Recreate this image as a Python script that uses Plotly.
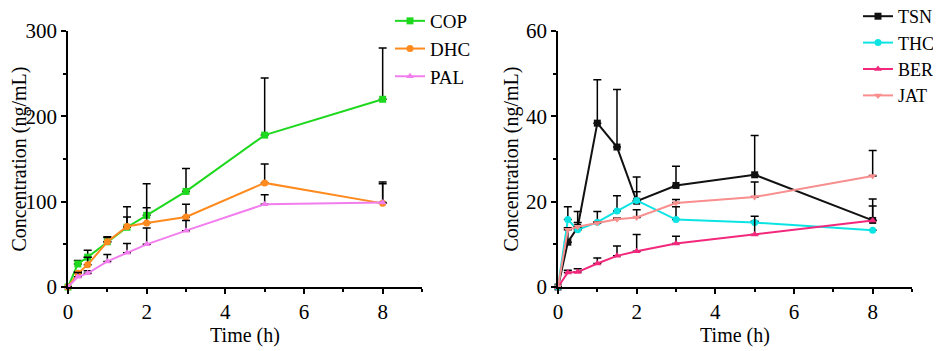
import plotly.graph_objects as go

# ---- data ----
time_h = [0, 0.25, 0.5, 1, 1.5, 2, 3, 5, 8]

cop = [0, 27, 35, 53, 70, 84, 112, 178, 220]
cop_err = [0, 4, 8, 6, 24, 37, 27, 67, 60]
dhc = [0, 16, 26, 53, 71, 75, 82, 122, 98]
dhc_err = [0, 2, 9, 5, 11, 18, 15, 22, 25]
pal = [0, 12, 16, 30, 40, 50, 66, 97, 99]
pal_err = [0, 5, 3, 8, 11, 19, 12, 11, 22]

tsn = [0, 10.5, 14.0, 38.4, 32.8, 20.1, 23.8, 26.3, 15.6]
tsn_err = [0, 3.3, 3.7, 10.2, 13.5, 5.7, 4.5, 9.2, 5.0]
thc = [0, 15.8, 13.4, 15.2, 17.8, 20.3, 15.8, 15.1, 13.3]
thc_err = [0, 3.0, 0.5, 2.5, 3.6, 2.0, 3.0, 0.3, 0]
ber = [0, 3.4, 3.5, 5.5, 7.3, 8.4, 10.2, 12.3, 15.6]
ber_err = [0, 0.5, 0.8, 1.3, 2.3, 3.9, 1.7, 4.3, 3.4]
jat = [0, 13.4, 14.1, 15.0, 15.9, 16.3, 19.7, 21.1, 26.0]
jat_err = [0, 0.5, 1.0, 0.3, 0.3, 1.8, 0.8, 3.5, 6.0]

FONT = "Liberation Serif"

left_series = [
    ("COP", cop, cop_err, "#1ED81E", "square"),
    ("DHC", dhc, dhc_err, "#FF8A1E", "circle"),
    ("PAL", pal, pal_err, "#F27EEE", "triangle-up"),
]
right_series = [
    ("TSN", tsn, tsn_err, "#111111", "square"),
    ("THC", thc, thc_err, "#0CE4E4", "circle"),
    ("BER", ber, ber_err, "#F2287C", "triangle-up"),
    ("JAT", jat, jat_err, "#F88E8E", "triangle-down"),
]

fig = go.Figure()


def add(series, xa, ya, leg):
    for name, y, err, col, sym in series:
        fig.add_trace(go.Scatter(
            x=time_h, y=y, name=name, mode="lines+markers",
            xaxis=xa, yaxis=ya, legend=leg,
            line=dict(color=col, width=2),
            marker=dict(color=col, symbol=sym, size=7),
            error_y=dict(type="data", symmetric=False, array=err,
                         arrayminus=[0] * len(err), color="black",
                         thickness=1.5, width=4),
            cliponaxis=False,
        ))


add(left_series, "x", "y", "legend")
add(right_series, "x2", "y2", "legend2")

# the page body has an 8px margin, so lay out in a 933x343 box
W, H = 933, 343
y0 = (H - 279) / H
y1 = (H - 23) / H

axis_common = dict(
    showline=True, linecolor="black", linewidth=1.5, ticks="outside",
    ticklen=5, tickwidth=1.5, tickcolor="black", showgrid=False,
    zeroline=False, tickfont=dict(family=FONT, size=21, color="black"),
    mirror=False, automargin=False,
)
minor_x = dict(ticks="outside", ticklen=3, dtick=1, tickcolor="black", tickwidth=1.5)
title_font = dict(family=FONT, size=20, color="black")

fig.update_layout(
    width=W, height=H,
    margin=dict(l=0, r=0, t=0, b=0, autoexpand=False),
    paper_bgcolor="white", plot_bgcolor="white",
    font=dict(family=FONT, size=20, color="black"),
    xaxis=dict(domain=[60 / W, 414 / W], range=[0, 9], dtick=2, tick0=0,
               anchor="y", minor=minor_x,
               title=dict(text="Time (h)", font=title_font, standoff=3),
               **axis_common),
    yaxis=dict(domain=[y0, y1], range=[0, 300], dtick=100, anchor="x",
               minor=dict(ticks="outside", ticklen=3, dtick=50, tickcolor="black", tickwidth=1.5),
               title=dict(text="Concentration (ng/mL)", font=title_font, standoff=2),
               **axis_common),
    xaxis2=dict(domain=[550 / W, 904 / W], range=[0, 9], dtick=2, tick0=0,
                anchor="y2", minor=minor_x,
                title=dict(text="Time (h)", font=title_font, standoff=3),
                **axis_common),
    yaxis2=dict(domain=[y0, y1], range=[0, 60], dtick=20, anchor="x2",
                minor=dict(ticks="outside", ticklen=3, dtick=10, tickcolor="black", tickwidth=1.5),
                title=dict(text="Concentration (ng/mL)", font=title_font, standoff=2),
                **axis_common),
    legend=dict(x=382 / W, y=1 + 6 / H, xanchor="left", yanchor="top",
                bgcolor="rgba(0,0,0,0)", font=dict(family=FONT, size=19),
                tracegroupgap=0, itemwidth=30),
    legend2=dict(x=850 / W, y=1 + 10 / H, xanchor="left", yanchor="top",
                 bgcolor="rgba(0,0,0,0)", font=dict(family=FONT, size=18),
                 tracegroupgap=0, itemwidth=30),
)

fig.write_html("out.html")
